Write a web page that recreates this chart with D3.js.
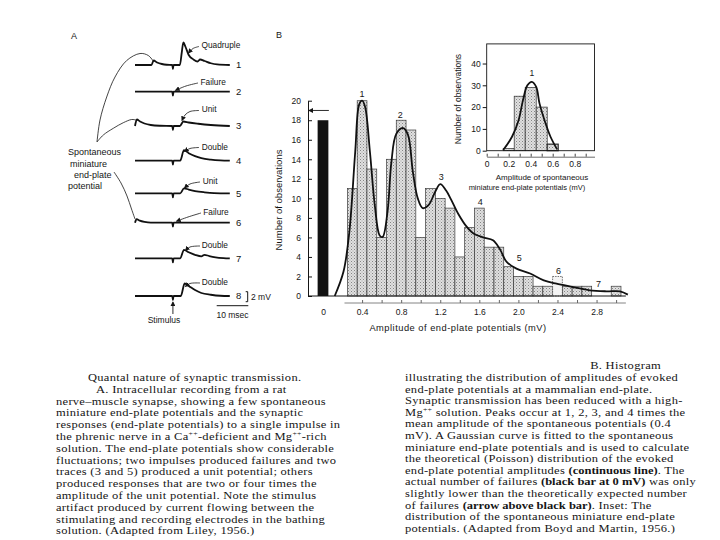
<!DOCTYPE html>
<html lang="en">
<head>
<meta charset="utf-8">
<script src="https://d3js.org/d3.v7.min.js"></script>
<style>
  body { margin: 0; background: #fff; }
  svg { display: block; }
  .sans { font-family: "Liberation Sans", Arial, sans-serif; fill: #151515; }
  .cap { font-family: "Liberation Serif", "Times New Roman", serif; font-size: 10.5px; letter-spacing: 0.25px; fill: #151515; }
</style>
</head>
<body>
<svg id="fig" width="720" height="540"></svg>
<script>
// ---------- data: panel B, evoked end-plate potentials ----------
var failureCount = 18;          // black bar at 0 mV
var expectedFailures = 19;      // arrow above black bar
var epBinMv  = [0.3, 0.4, 0.5, 0.6, 0.7, 0.8, 0.9, 1.0, 1.1, 1.2, 1.3, 1.4, 1.5, 1.6, 1.7, 1.8, 1.9, 2.0, 2.1, 2.2, 2.3, 2.4, 2.5, 2.6, 2.7, 3.0];
var epCounts = [11, 20, 13, 6, 14, 18, 17, 6, 11, 10, 9, 4, 7, 9, 5, 5, 3, 2, 2, 1, 1, 2, 1, 1, 1, 1];

// theoretical (Poisson) curve
var poissonMv = [0.12, 0.21, 0.27, 0.33, 0.37, 0.40, 0.43, 0.48, 0.53, 0.58, 0.61, 0.66, 0.70, 0.75, 0.82, 0.87, 0.92, 0.97, 1.02, 1.08, 1.15, 1.20, 1.26, 1.31, 1.385, 1.47, 1.54, 1.64, 1.74, 1.81, 1.88, 1.98, 2.12, 2.26, 2.39, 2.56, 2.73, 2.90, 3.04, 3.12];
var poissonN  = [0, 2.5, 6.6, 14.8, 19.6, 20, 19.4, 14.8, 9.3, 6.2, 6.05, 8.6, 13.7, 16.6, 17.2, 16.5, 12.7, 10, 9.0, 9.3, 10.7, 11.45, 10.8, 9.9, 8.4, 7.1, 6.4, 6.0, 5.7, 4.8, 3.5, 2.8, 2.3, 1.6, 1.26, 0.92, 0.58, 0.48, 0.48, 0.14];

var peakLabels = ['1', '2', '3', '4', '5', '6', '7'];
var peakMv     = [0.40, 0.79, 1.21, 1.61, 2.01, 2.41, 2.82];
var peakN      = [20.7, 18.5, 12.2, 9.65, 3.9, 2.56, 1.26];

var epTicks = [0, 0.4, 0.8, 1.2, 1.6, 2.0, 2.4, 2.8];
var nTicks  = [0, 2, 4, 6, 8, 10, 12, 14, 16, 18, 20];

// ---------- data: inset, spontaneous miniature potentials ----------
var mepBinMv  = [0.2, 0.3, 0.4, 0.5, 0.6];
var mepCounts = [1, 25, 29, 20, 3];
var gaussMv = [0.15, 0.23, 0.29, 0.33, 0.37, 0.41, 0.45, 0.48, 0.53, 0.58, 0.64];
var gaussN  = [0.3, 6.4, 14, 23.2, 30, 31.6, 29.3, 21.7, 13.3, 6.4, 0.6];
var mepTicks = [0, 0.2, 0.4, 0.6, 0.8];
var mepNTicks = [0, 10, 20, 30, 40];

// ---------- data: panel A, intracellular traces (msec, mV) ----------
var stimT = 12;
var traceNames = ['1', '2', '3', '4', '5', '6', '7', '8'];
var traceLabels = ['Quadruple', 'Failure', 'Unit', 'Double', 'Unit', 'Failure', 'Double', 'Double'];
var traces = [
  [[0,0],[5.2,0],[5.9,0.9],[7,0.5],[8.5,0.2],[10,0.05],[11.8,0],[12,-0.8],[12.2,0],[14.2,0],[14.8,2.5],[15.3,4.5],[16,3.6],[17,2],[18.5,1.1],[19.8,0.7],[20.6,1.1],[22,0.8],[24,0.35],[26,0.12],[30,0]],
  [[0,0],[11.8,0],[12,-0.8],[12.2,0],[30,0]],
  [[0,0],[0.6,1.3],[1.6,0.9],[3,0.5],[5,0.2],[8,0.05],[11.8,0],[12,-0.8],[12.2,0],[14.2,0],[15.3,0.9],[17,0.7],[20,0.45],[24,0.2],[30,0]],
  [[0,0],[11.8,0],[12,-0.8],[12.2,0],[14.3,0],[15.5,2.1],[17,1.5],[19,0.9],[21,0.5],[24,0.2],[27,0.05],[30,0]],
  [[0,0],[11.8,0],[12,-0.8],[12.2,0],[14.3,0],[15.5,1.0],[17,0.75],[19,0.45],[22,0.2],[25,0.05],[30,0]],
  [[0,0],[0.5,0.7],[1.5,0.4],[3,0.15],[5,0],[11.8,0],[12,-0.8],[12.2,0],[30,0]],
  [[0,0],[11.8,0],[12,-0.8],[12.2,0],[14.3,0],[15.5,1.7],[17,1.2],[19,0.7],[21,0.4],[22,0.7],[23.5,0.45],[25.5,0.2],[28,0.05],[30,0]],
  [[0,0],[11.8,0],[12,-0.8],[12.2,0],[14.5,0],[15.7,2.5],[17,2],[19,1.2],[21,0.6],[24,0.25],[27,0.05],[30,0]]
];

// ---------- captions ----------
var captionA = [
  'Quantal nature of synaptic transmission.',
  'A.  Intracellular recording from a rat',
  'nerve–muscle synapse, showing a few spontaneous',
  'miniature end-plate potentials and the synaptic',
  'responses (end-plate potentials) to a single impulse in',
  'the phrenic nerve in a Ca^{++}-deficient and Mg^{++}-rich',
  'solution. The end-plate potentials show considerable',
  'fluctuations; two impulses produced failures and two',
  'traces (3 and 5) produced a unit potential; others',
  'produced responses that are two or four times the',
  'amplitude of the unit potential. Note the stimulus',
  'artifact produced by current flowing between the',
  'stimulating and recording electrodes in the bathing',
  'solution. (Adapted from Liley, 1956.)'
];
var captionB = [
  'illustrating the distribution of amplitudes of evoked',
  'end-plate potentials at a mammalian end-plate.',
  'Synaptic transmission has been reduced with a high-',
  'Mg^{++} solution. Peaks occur at 1, 2, 3, and 4 times the',
  'mean amplitude of the spontaneous potentials (0.4',
  'mV). A Gaussian curve is fitted to the spontaneous',
  'miniature end-plate potentials and is used to calculate',
  'the theoretical (Poisson) distribution of the evoked',
  'end-plate potential amplitudes **(continuous line)**. The',
  'actual number of failures **(black bar at 0 mV)** was only',
  'slightly lower than the theoretically expected number',
  'of failures **(arrow above black bar)**. Inset: The',
  'distribution of the spontaneous miniature end-plate',
  'potentials. (Adapted from Boyd and Martin, 1956.)'
];

var svg = d3.select('#fig');
var defs = svg.append('defs');

// stippled grey fill for the histogram bars
var pat = defs.append('pattern').attr('id', 'stip')
  .attr('width', 3).attr('height', 3).attr('patternUnits', 'userSpaceOnUse');
pat.append('rect').attr('width', 3).attr('height', 3).attr('fill', '#e0e0e0');
pat.append('rect').attr('width', 1).attr('height', 1).attr('fill', '#858585');
pat.append('rect').attr('x', 1.5).attr('y', 1.5).attr('width', 1).attr('height', 1).attr('fill', '#a0a0a0');

defs.append('marker').attr('id', 'ah')
  .attr('viewBox', '0 0 6 6').attr('refX', 5).attr('refY', 3)
  .attr('markerWidth', 5).attr('markerHeight', 5).attr('markerUnits', 'userSpaceOnUse')
  .attr('orient', 'auto')
  .append('path').attr('d', 'M0,0L6,3L0,6z').attr('fill', '#151515');

// ================= panel B =================
var x = d3.scaleLinear().domain([0, 3.1]).range([323, 323 + 3.1 * 97.7]);
var y = d3.scaleLinear().domain([0, 20]).range([296, 100.7]);
var binW = x(0.1) - x(0);

var gB = svg.append('g');

gB.append('text').attr('class', 'sans').attr('x', 276).attr('y', 38)
  .style('font-size', '9px').text('B');

// bars
gB.selectAll('.ep').data(epBinMv).enter().append('rect')
  .attr('class', 'ep')
  .attr('x', function(d) { return x(d - 0.05); })
  .attr('y', function(d, i) { return y(epCounts[i]); })
  .attr('width', binW)
  .attr('height', function(d, i) { return y(0) - y(epCounts[i]); })
  .attr('fill', function(d) { return d === 2.4 ? '#f4f4f4' : 'url(#stip)'; })
  .attr('stroke', '#3a3a3a')
  .attr('stroke-width', 0.7)
  .attr('stroke-dasharray', function(d) { return d === 2.4 ? '1.5,1' : null; });

// failures
gB.append('rect')
  .attr('x', x(-0.055)).attr('y', y(failureCount))
  .attr('width', x(0.055) - x(-0.055)).attr('height', y(0) - y(failureCount))
  .attr('fill', '#121212');

// expected failures arrow
gB.append('line')
  .attr('x1', x(0.06)).attr('x2', 309)
  .attr('y1', y(expectedFailures)).attr('y2', y(expectedFailures))
  .attr('stroke', '#151515').attr('stroke-width', 0.9)
  .attr('marker-end', 'url(#ah)');

// baseline
gB.append('line').attr('x1', 308).attr('x2', x(3.1))
  .attr('y1', y(0)).attr('y2', y(0)).attr('stroke', '#151515').attr('stroke-width', 1);

// Poisson curve
var pLine = d3.line()
  .x(function(d) { return x(d[0]); })
  .y(function(d) { return y(d[1]); })
  .curve(d3.curveCatmullRom.alpha(0.5));
gB.append('path')
  .datum(poissonMv.map(function(m, i) { return [m, poissonN[i]]; }))
  .attr('d', pLine).attr('fill', 'none')
  .attr('stroke', '#111').attr('stroke-width', 1.8);

gB.selectAll('.pk').data(peakLabels).enter().append('text')
  .attr('class', 'sans')
  .attr('x', function(d, i) { return x(peakMv[i]); })
  .attr('y', function(d, i) { return y(peakN[i]); })
  .attr('dy', '0.35em').attr('text-anchor', 'middle')
  .style('font-size', '9px').text(function(d) { return d; });

// y axis (ticks point inward)
var gy = gB.append('g').attr('transform', 'translate(308,0)')
  .call(d3.axisLeft(y).tickValues(nTicks).tickSize(-4).tickSizeOuter(0).tickPadding(7));
gy.select('.domain').attr('stroke', '#151515');
gy.selectAll('line').attr('stroke', '#151515');
gy.selectAll('text').attr('class', 'sans').style('font-size', '8.5px').attr('fill', '#151515');

// x axis: tick rule just under the bars, labels below
var gx = gB.append('g').attr('transform', 'translate(0,303)')
  .call(d3.axisTop(x).tickValues(d3.range(4, 31, 2).map(function(v) { return v / 10; }))
    .tickSize(3).tickSizeOuter(0).tickFormat(''));
gx.select('.domain').attr('d', 'M' + x(0.22) + ',0H' + x(3.1)).attr('stroke', '#666').attr('stroke-width', 0.8);
gx.selectAll('line').attr('stroke', '#666');

var gxl = gB.append('g').attr('transform', 'translate(0,303)')
  .call(d3.axisBottom(x).tickValues(epTicks).tickSize(0).tickPadding(6)
    .tickFormat(function(d) { return d === 0 ? '0' : d3.format('.1f')(d); }));
gxl.select('.domain').remove();
gxl.selectAll('text').attr('class', 'sans').style('font-size', '8.5px').attr('fill', '#151515');

gB.append('text').attr('class', 'sans')
  .attr('transform', 'translate(279,200) rotate(-90)')
  .attr('text-anchor', 'middle').attr('dy', '0.35em')
  .style('font-size', '9.5px').text('Number of observations');
gB.append('text').attr('class', 'sans')
  .attr('x', 458).attr('y', 331).attr('text-anchor', 'middle')
  .style('font-size', '9.3px').style('letter-spacing', '0.5px')
  .text('Amplitude of end-plate potentials (mV)');

// ================= inset =================
var xi = d3.scaleLinear().domain([0, 0.98]).range([486.7, 594.5]);
var yi = d3.scaleLinear().domain([0, 49]).range([150.7, 43.9]);
var gI = svg.append('g');
var binWi = xi(0.1) - xi(0);

gI.selectAll('.mep').data(mepBinMv).enter().append('rect')
  .attr('x', function(d) { return xi(d - 0.05); })
  .attr('y', function(d, i) { return yi(mepCounts[i]); })
  .attr('width', binWi)
  .attr('height', function(d, i) { return yi(0) - yi(mepCounts[i]); })
  .attr('fill', 'url(#stip)')
  .attr('stroke', '#2a2a2a')
  .attr('stroke-width', function(d) { return d === 0.6 ? 1.2 : 0.7; });

gI.append('path')
  .datum(gaussMv.map(function(m, i) { return [m, gaussN[i]]; }))
  .attr('d', d3.line().x(function(d) { return xi(d[0]); }).y(function(d) { return yi(d[1]); })
    .curve(d3.curveCatmullRom.alpha(0.5)))
  .attr('fill', 'none').attr('stroke', '#111').attr('stroke-width', 1.8);

gI.append('text').attr('class', 'sans').attr('x', xi(0.41)).attr('y', yi(35.5))
  .attr('text-anchor', 'middle').attr('dy', '0.35em').style('font-size', '8.5px').text('1');

gI.append('rect')
  .attr('x', xi(0)).attr('y', yi(49))
  .attr('width', xi(0.98) - xi(0)).attr('height', yi(0) - yi(49))
  .attr('fill', 'none').attr('stroke', '#151515').attr('stroke-width', 0.9);

var giy = gI.append('g').attr('transform', 'translate(' + xi(0) + ',0)')
  .call(d3.axisLeft(yi).tickValues(mepNTicks).tickSize(4).tickSizeOuter(0).tickPadding(2));
giy.select('.domain').remove();
giy.selectAll('line').attr('stroke', '#151515');
giy.selectAll('text').attr('class', 'sans').style('font-size', '8.5px').attr('fill', '#151515');

var gix = gI.append('g').attr('transform', 'translate(0,156.7)')
  .call(d3.axisTop(xi).tickValues(d3.range(0, 10).map(function(v) { return v / 10; }))
    .tickSize(3).tickSizeOuter(0).tickFormat(''));
gix.select('.domain').attr('stroke', '#444').attr('stroke-width', 0.8);
gix.selectAll('line').attr('stroke', '#444');
var gixl = gI.append('g').attr('transform', 'translate(0,156.7)')
  .call(d3.axisBottom(xi).tickValues(mepTicks).tickSize(0).tickPadding(4)
    .tickFormat(function(d) { return d === 0 ? '0' : d3.format('.1f')(d); }));
gixl.select('.domain').remove();
gixl.selectAll('text').attr('class', 'sans').style('font-size', '8.5px').attr('fill', '#151515');

gI.append('text').attr('class', 'sans')
  .attr('transform', 'translate(458,99) rotate(-90)')
  .attr('text-anchor', 'middle').attr('dy', '0.35em')
  .style('font-size', '8.5px').text('Number of observations');
gI.append('text').attr('class', 'sans').attr('x', 542).attr('y', 180)
  .attr('text-anchor', 'middle').style('font-size', '8px').text('Amplitude of spontaneous');
gI.append('text').attr('class', 'sans').attr('x', 527).attr('y', 189.5)
  .attr('text-anchor', 'middle').style('font-size', '7.5px').text('miniature end-plate potentials (mV)');

// ================= panel A =================
var gA = svg.append('g');
var rowY = [65, 91.7, 126, 160.7, 193.3, 222.7, 258.3, 296];
var xt = d3.scaleLinear().domain([0, 30]).range([135, 229.8]);
var yt = d3.scaleLinear().domain([0, 1]).range([0, -5]);   // 5 px per mV
var tLine = d3.line().x(function(d) { return xt(d[0]); }).curve(d3.curveMonotoneX);

gA.append('text').attr('class', 'sans').attr('x', 71).attr('y', 39)
  .style('font-size', '9px').text('A');

traces.forEach(function(tr, i) {
  gA.append('path').datum(tr)
    .attr('d', tLine.y(function(d) { return rowY[i] + yt(d[1]); }))
    .attr('fill', 'none').attr('stroke', '#111').attr('stroke-width', 1.8);
  gA.append('text').attr('class', 'sans')
    .attr('x', 236).attr('y', rowY[i]).attr('dy', '0.35em')
    .style('font-size', '9.5px').text(traceNames[i]);
});

// event labels with leaders
var labelPos = [[201.5, 45], [200.5, 81.7], [201.7, 109.3], [201.7, 146.7], [202.7, 180.7], [203.3, 211.7], [201.7, 245], [201.7, 282]];
var leaders = [
  [[199, 46.5], [193, 48.5], [188.5, 53]],
  [[198, 83], [186, 86], [175.5, 90.3]],
  [[199, 110.5], [190, 111.5], [185, 115], [182, 120.5]],
  [[199, 147.5], [190, 148.5], [184.5, 151.5]],
  [[200, 182], [190, 184], [184.5, 188]],
  [[201, 213], [188, 217], [176.5, 221.2]],
  [[200, 246], [190, 247], [185.5, 250.5]],
  [[200, 283], [190, 283.5], [185.5, 286.5]]
];
var lLine = d3.line().curve(d3.curveCatmullRom);
traceLabels.forEach(function(t, i) {
  gA.append('text').attr('class', 'sans')
    .attr('x', labelPos[i][0]).attr('y', labelPos[i][1]).attr('dy', '0.35em')
    .style('font-size', '8.3px').text(t);
  gA.append('path').attr('d', lLine(leaders[i]))
    .attr('fill', 'none').attr('stroke', '#151515').attr('stroke-width', 0.8)
    .attr('marker-end', 'url(#ah)');
});

// spontaneous mepp label and its leaders
[['Spontaneous', 68, 152], ['miniature', 70, 164], ['end-plate', 74, 175], ['potential', 68, 186]]
  .forEach(function(l) {
    gA.append('text').attr('class', 'sans').attr('x', l[1]).attr('y', l[2]).attr('dy', '0.35em')
      .style('font-size', '9px').text(l[0]);
  });
[
  [[97, 142], [100, 120], [106.7, 97], [115, 77], [126.7, 60.5], [140, 53.5], [148.3, 55.5], [153.5, 61.5]],
  [[97, 142], [103.3, 135], [113.3, 128.3], [123.3, 122.7], [131.7, 119.5], [136, 120]],
  [[114, 172], [121, 183], [127, 196], [131.5, 209], [135, 219]]
].forEach(function(p) {
  gA.append('path').attr('d', lLine(p)).attr('fill', 'none')
    .attr('stroke', '#151515').attr('stroke-width', 0.8);
});

// stimulus arrow
gA.append('line').attr('x1', xt(stimT)).attr('x2', xt(stimT))
  .attr('y1', 314).attr('y2', 302)
  .attr('stroke', '#151515').attr('stroke-width', 0.9).attr('marker-end', 'url(#ah)');
gA.append('text').attr('class', 'sans').attr('x', 164).attr('y', 320).attr('dy', '0.35em')
  .attr('text-anchor', 'middle').style('font-size', '8.5px').text('Stimulus');

// calibration bars: 2 mV, 10 msec
var calX = 247.7, calY = 301.7;
gA.append('path')
  .attr('d', 'M' + (calX - 2) + ',' + (calY + yt(2)) + 'H' + calX + 'V' + calY + 'H' + (calX - 2))
  .attr('fill', 'none').attr('stroke', '#151515').attr('stroke-width', 1);
gA.append('text').attr('class', 'sans').attr('x', 251).attr('y', calY + yt(1)).attr('dy', '0.35em')
  .style('font-size', '8.5px').text('2 mV');
gA.append('line').attr('x1', 248.3 - (xt(10) - xt(0))).attr('x2', 248.3)
  .attr('y1', 305.7).attr('y2', 305.7).attr('stroke', '#151515').attr('stroke-width', 1);
gA.append('text').attr('class', 'sans').attr('x', 232.5).attr('y', 315).attr('dy', '0.35em')
  .attr('text-anchor', 'middle').style('font-size', '8.5px').text('10 msec');

// ================= captions =================
function writeLine(sel, str) {
  str.split(/(\*\*[^*]+\*\*|\^\{[^}]+\})/).forEach(function(part) {
    if (!part) return;
    if (part.indexOf('**') === 0) {
      sel.append('tspan').style('font-weight', 'bold').style('letter-spacing', '0px').text(part.slice(2, -2));
    } else if (part.indexOf('^{') === 0) {
      sel.append('tspan').attr('baseline-shift', 'super').style('font-size', '6.5px').text(part.slice(2, -1));
    } else {
      sel.append('tspan').text(part);
    }
  });
}

// the scanned book face is wider than Times, so stretch horizontally
var stretch = 1.19;
var gc = svg.append('g');
captionA.forEach(function(s, i) {
  var xx = i === 0 ? 88 : (i === 1 ? 96 : 56);
  var t = gc.append('text').attr('class', 'cap')
    .attr('transform', 'translate(' + xx + ',' + (381 + i * 11.8) + ') scale(' + stretch + ',1)');
  writeLine(t, s);
});
gc.append('text').attr('class', 'cap')
  .attr('transform', 'translate(661,369) scale(' + stretch + ',1)')
  .attr('text-anchor', 'end').text('B. Histogram');
captionB.forEach(function(s, i) {
  var t = gc.append('text').attr('class', 'cap')
    .attr('transform', 'translate(405,' + (381 + i * 11.6) + ') scale(' + stretch + ',1)');
  writeLine(t, s);
});
</script>
</body>
</html>
